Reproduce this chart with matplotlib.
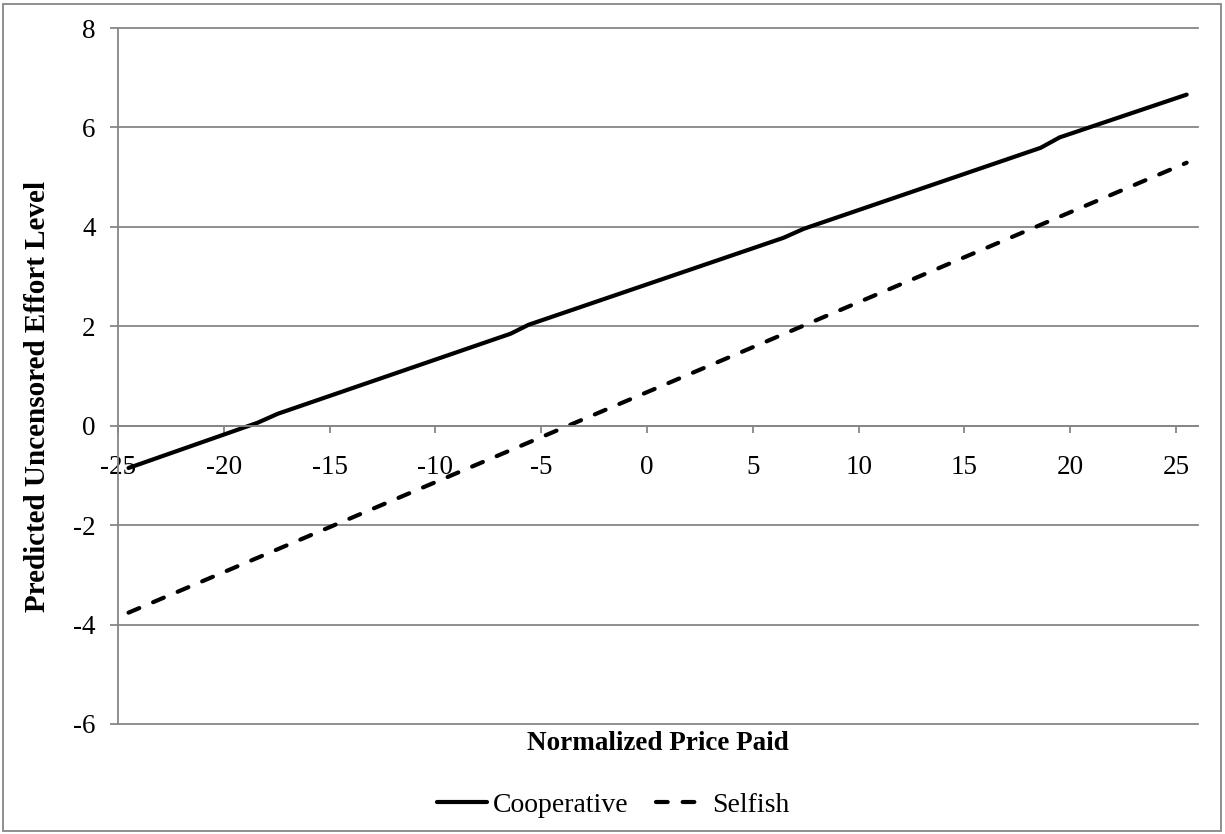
import matplotlib
matplotlib.use("Agg")
import matplotlib.pyplot as plt
from matplotlib.patches import Rectangle

# Values.
coop_x = [-24.5, -18.4, -17.45, -6.45, -5.6, 6.45, 7.4, 18.6, 19.5, 25.5]
coop_y = [-0.85, 0.06, 0.24, 1.85, 2.03, 3.78, 3.96, 5.59, 5.8, 6.66]
self_x = [-24.5, 25.5]
self_y = [-3.76, 5.29]
x_ticks = [-25, -20, -15, -10, -5, 0, 5, 10, 15, 20, 25]
y_ticks = [-6, -4, -2, 0, 2, 4, 6, 8]

plt.rcParams["font.family"] = ["Liberation Serif", "DejaVu Serif"]
plt.rcParams["axes.unicode_minus"] = False
grey = "#868686"

fig = plt.figure(figsize=(12.25, 8.34), dpi=100)
ax = fig.add_axes([0.0963, 0.1319, 0.978 - 0.0963, 0.9664 - 0.1319])

ax.plot(coop_x, coop_y, color="black", lw=3, solid_capstyle="round",
        label="Cooperative")
ax.plot(self_x, self_y, color="black", lw=3, linestyle=(0, (2.8, 3.6)),
        dash_capstyle="round", label="Selfish")

ax.set_xlim(-25, 26.04)
ax.set_ylim(-6, 8)
ax.set_xticks(x_ticks)
ax.set_yticks(y_ticks)

# Excel-like axes: x axis crosses at y=0, horizontal gridlines only.
ax.spines["top"].set_visible(False)
ax.spines["right"].set_visible(False)
ax.spines["bottom"].set_position(("data", 0))
for s in ["left", "bottom"]:
    ax.spines[s].set_color(grey)
    ax.spines[s].set_linewidth(1.3)
ax.yaxis.grid(True, color=grey, lw=1.3)
ax.set_axisbelow(True)
for g in ax.get_ygridlines():
    g.set_clip_on(False)

ax.tick_params(axis="x", direction="out", length=5, width=1.3, color=grey,
               labelsize=19.5, pad=16)
ax.tick_params(axis="y", direction="out", length=6, width=1.3, color=grey,
               labelsize=19.5, pad=10)

ax.set_ylabel("Predicted Uncensored Effort Level", fontsize=21,
              fontweight="bold")
ax.yaxis.set_label_coords(-0.062, 0.47)
fig.text(658 / 1225, 1 - 743 / 834, "Normalized Price Paid", fontsize=19.5,
         fontweight="bold", ha="center", va="center")

fig.legend(loc="center", bbox_to_anchor=(613 / 1225, 1 - 805 / 834), ncol=2,
           frameon=False, fontsize=20, handlelength=1.8, handletextpad=0.2,
           columnspacing=1.0)

# Outer chart border.
fig.patches.append(Rectangle((3 / 1225, 3 / 834), 1 - 7 / 1225, 1 - 7 / 834,
                             transform=fig.transFigure, fill=False,
                             edgecolor=grey, lw=1.3))

fig.savefig("out.png", dpi=100)
